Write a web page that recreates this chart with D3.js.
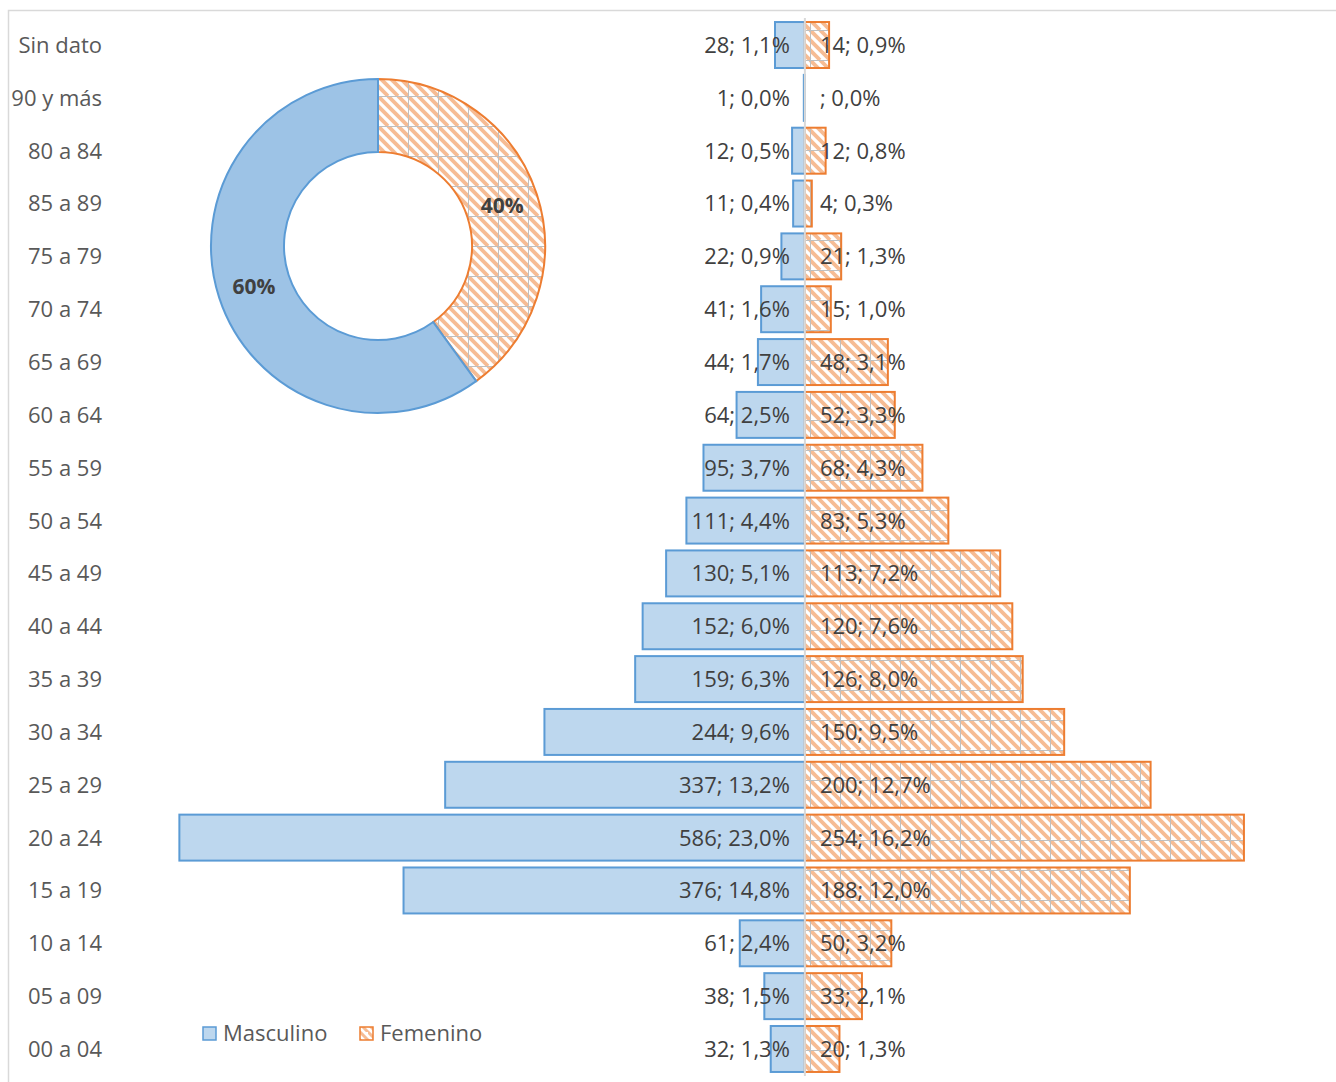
<!DOCTYPE html>
<html>
<head>
<meta charset="utf-8">
<script src="https://cdn.jsdelivr.net/npm/d3@7"></script>
<style>
  body { margin: 0; background: #fff; }
  text { font-family: "Open Sans", sans-serif; }
</style>
</head>
<body>
<div id="chart"></div>
<script>
// Age groups (top to bottom, as in the original)
const groups = ["Sin dato", "90 y más", "80 a 84", "85 a 89", "75 a 79", "70 a 74", "65 a 69",
  "60 a 64", "55 a 59", "50 a 54", "45 a 49", "40 a 44", "35 a 39", "30 a 34", "25 a 29",
  "20 a 24", "15 a 19", "10 a 14", "05 a 09", "00 a 04"];

// Counts per group
const masculino = [28, 1, 12, 11, 22, 41, 44, 64, 95, 111, 130, 152, 159, 244, 337, 586, 376, 61, 38, 32];
const femenino  = [14, null, 12, 4, 21, 15, 48, 52, 68, 83, 113, 120, 126, 150, 200, 254, 188, 50, 33, 20];

// Donut shares (%)
const donutLabels = ["Femenino", "Masculino"];
const donutValues = [40, 60];

const W = 1336, H = 1082;
const svg = d3.select("#chart").append("svg")
    .attr("width", W)
    .attr("height", H);

// Patterns for Femenino
const defs = svg.append("defs");
const pat = defs.append("pattern")
    .attr("id", "fem")
    .attr("patternUnits", "userSpaceOnUse")
    .attr("width", 30).attr("height", 30);
pat.append("rect").attr("width", 30).attr("height", 30).attr("fill", "#fff");
for (let x0 = -30; x0 <= 30; x0 += 10) {
    pat.append("line")
        .attr("x1", x0).attr("y1", 0)
        .attr("x2", x0 + 30).attr("y2", 30)
        .attr("stroke", "#f6bc94")
        .attr("stroke-width", 3.8);
}
pat.append("line").attr("x1", 0).attr("y1", 0.5).attr("x2", 30).attr("y2", 0.5)
    .attr("stroke", "#bfbfbf").attr("stroke-width", 1);
pat.append("line").attr("x1", 0.5).attr("y1", 0).attr("x2", 0.5).attr("y2", 30)
    .attr("stroke", "#bfbfbf").attr("stroke-width", 1);

const legendHatch = defs.append("pattern")
    .attr("id", "femLegend")
    .attr("patternUnits", "userSpaceOnUse")
    .attr("width", 8).attr("height", 8);
legendHatch.append("rect").attr("width", 8).attr("height", 8).attr("fill", "#fff");
legendHatch.append("line").attr("x1", -8).attr("y1", 0).attr("x2", 8).attr("y2", 16)
    .attr("stroke", "#f6bc94").attr("stroke-width", 3);
legendHatch.append("line").attr("x1", 0).attr("y1", 0).attr("x2", 16).attr("y2", 16)
    .attr("stroke", "#f6bc94").attr("stroke-width", 3);

// Chart border (the original is cropped at right and bottom)
svg.append("rect")
    .attr("x", 8.5).attr("y", 10.5)
    .attr("width", 1400).attr("height", 1100)
    .attr("fill", "none")
    .attr("stroke", "#d9d9d9")
    .attr("stroke-width", 1.5);

const totM = d3.sum(masculino);
const totF = d3.sum(femenino);
const pct = (v, t) => (v || 0) / t * 100;
const fmt = v => d3.format(".1f")(v).replace(".", ",");

const rowsM = groups.map((g, i) => ({ group: g, value: masculino[i], p: pct(masculino[i], totM) }));
const rowsF = groups.map((g, i) => ({ group: g, value: femenino[i], p: pct(femenino[i], totF) }));

// Scales
const x = d3.scaleLinear().domain([-25, 20]).range([126, 1348]);
const y = d3.scaleBand()
    .domain(groups)
    .range([18.6, 1075.4])
    .paddingInner(0.13)
    .paddingOuter(0.065);
const yMid = g => y(g) + y.bandwidth() / 2;

// Category labels
svg.append("g")
    .selectAll("text")
    .data(groups)
    .join("text")
    .attr("x", 102)
    .attr("y", d => yMid(d))
    .attr("dy", "0.36em")
    .attr("text-anchor", "end")
    .attr("font-size", 22)
    .attr("fill", "#595959")
    .text(d => d);

// Masculino bars
svg.append("g")
    .selectAll("rect")
    .data(rowsM)
    .join("rect")
    .attr("x", d => x(-d.p))
    .attr("y", d => y(d.group))
    .attr("width", d => Math.max(0.5, x(0) - x(-d.p)))
    .attr("height", y.bandwidth())
    .attr("fill", "#bdd7ee")
    .attr("stroke", "#5b9bd5")
    .attr("stroke-width", 2);

// Femenino bars
svg.append("g")
    .selectAll("rect")
    .data(rowsF.filter(d => d.value))
    .join("rect")
    .attr("x", x(0))
    .attr("y", d => y(d.group))
    .attr("width", d => x(d.p) - x(0))
    .attr("height", y.bandwidth())
    .attr("fill", "url(#fem)")
    .attr("stroke", "#ed7d31")
    .attr("stroke-width", 2);

// Centre axis line
svg.append("line")
    .attr("x1", x(0)).attr("x2", x(0))
    .attr("y1", 18).attr("y2", 1076)
    .attr("stroke", "#d9d9d9")
    .attr("stroke-width", 2);

// Bar labels
svg.append("g")
    .selectAll("text")
    .data(rowsM)
    .join("text")
    .attr("x", x(0) - 15)
    .attr("y", d => yMid(d.group))
    .attr("dy", "0.36em")
    .attr("text-anchor", "end")
    .attr("font-size", 22)
    .attr("fill", "#404040")
    .text(d => `${d.value}; ${fmt(d.p)}%`);

svg.append("g")
    .selectAll("text")
    .data(rowsF)
    .join("text")
    .attr("x", x(0) + 15)
    .attr("y", d => yMid(d.group))
    .attr("dy", "0.36em")
    .attr("text-anchor", "start")
    .attr("font-size", 22)
    .attr("fill", "#404040")
    .text(d => `${d.value == null ? "" : d.value}; ${fmt(d.p)}%`);

// Donut
const cx = 378, cy = 246;
const pie = d3.pie().sort(null).value(d => d);
const arc = d3.arc().innerRadius(94).outerRadius(167);
const donut = svg.append("g").attr("transform", `translate(${cx},${cy})`);
const slices = pie(donutValues);
donut.selectAll("path")
    .data(slices)
    .join("path")
    .attr("d", arc)
    .attr("fill", (d, i) => donutLabels[i] === "Femenino" ? "url(#fem)" : "#9dc3e6")
    .attr("stroke", (d, i) => donutLabels[i] === "Femenino" ? "#ed7d31" : "#5b9bd5")
    .attr("stroke-width", 2);
donut.selectAll("text")
    .data(slices)
    .join("text")
    .attr("transform", d => `translate(${arc.centroid(d)})`)
    .attr("dy", "0.36em")
    .attr("text-anchor", "middle")
    .attr("font-size", 21)
    .attr("font-weight", "bold")
    .attr("fill", "#404040")
    .text(d => d.data + "%");

// Legend
const legend = svg.append("g");
const legendItems = [
    { label: "Masculino", x: 203, fill: "#bdd7ee", stroke: "#5b9bd5" },
    { label: "Femenino", x: 360, fill: "url(#femLegend)", stroke: "#ed7d31" }
];
legendItems.forEach(it => {
    legend.append("rect")
        .attr("x", it.x).attr("y", 1027)
        .attr("width", 13).attr("height", 13)
        .attr("fill", it.fill)
        .attr("stroke", it.stroke)
        .attr("stroke-width", 1.5);
    legend.append("text")
        .attr("x", it.x + 20).attr("y", 1033.5)
        .attr("dy", "0.36em")
        .attr("font-size", 22)
        .attr("fill", "#595959")
        .text(it.label);
});
</script>
</body>
</html>
